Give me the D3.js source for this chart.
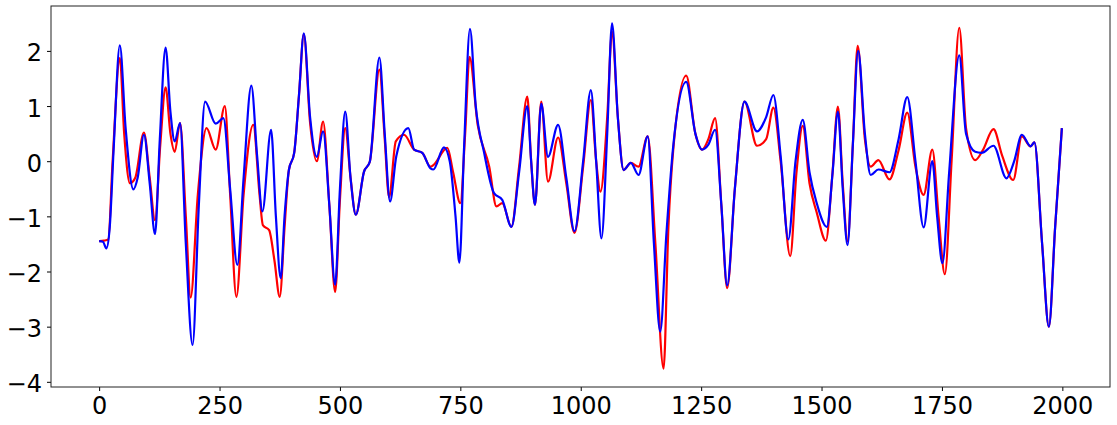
<!DOCTYPE html>
<html>
<head>
<meta charset="utf-8">
<script src="https://cdn.jsdelivr.net/npm/d3@7"></script>
<style>
  body { margin: 0; background: #fff; }
  svg text { font-family: "DejaVu Sans", sans-serif; }
</style>
</head>
<body>
<svg id="chart" width="1117" height="425"></svg>
<script>
// values: [x, y] at the turning points of each curve
var redPoints = [
  [0,-1.45],[10,-1.44],[19,-1.42],[28,0],[43,1.87],[52,0.5],[64,-0.40],[75,-0.3],[93,0.52],[105,-0.3],
  [116,-1.07],[127,0.3],[138,1.34],[148,0.5],[157,0.17],[168,0.69],[180,-1.0],[190,-2.47],[205,-0.6],[223,0.60],
  [242,0.21],[261,1.00],[272,-0.6],[285,-2.46],[300,-0.6],[320,0.66],[333,-0.6],[340,-1.16],[353,-1.25],[364,-1.8],
  [375,-2.46],[385,-1.2],[394,-0.16],[405,0.15],[415,1.2],[425,2.30],[438,0.7],[452,0.0],[465,0.72],[478,-0.8],
  [490,-2.37],[500,-0.7],[511,0.60],[522,-0.3],[533,-0.97],[550,-0.19],[562,-0.01],[582,1.66],[593,0.4],[602,-0.65],
  [616,0.36],[633,0.48],[654,0.21],[671,0.15],[688,-0.1],[694,-0.07],[723,0.24],[735,-0.2],[750,-0.76],[760,0.5],
  [769,1.89],[786,0.66],[810,-0.1],[825,-0.82],[837,-0.76],[856,-1.19],[872,-0.1],[889,1.17],[897,0],[905,-0.79],
  [918,1.08],[932,-0.37],[953,0.43],[970,-0.4],[987,-1.30],[1005,-0.1],[1021,1.11],[1032,0],[1041,-0.55],[1055,0.8],
  [1065,2.35],[1077,0.8],[1089,-0.16],[1104,-0.03],[1120,-0.1],[1139,0.45],[1155,-1.5],[1172,-3.76],[1182,-1.2],[1192,0.2],
  [1219,1.55],[1238,0.5],[1252,0.21],[1265,0.4],[1279,0.78],[1292,-0.8],[1304,-2.30],[1320,-0.5],[1340,1.08],[1366,0.28],
  [1385,0.4],[1400,0.97],[1415,0],[1435,-1.72],[1448,-0.2],[1461,0.64],[1475,-0.4],[1490,-0.93],[1509,-1.44],[1522,-0.3],
  [1534,0.99],[1544,-0.4],[1554,-1.45],[1565,0.3],[1575,2.09],[1590,0.4],[1602,-0.1],[1618,0.02],[1641,-0.33],[1660,0.2],
  [1678,0.88],[1695,-0.1],[1712,-0.61],[1730,0.21],[1743,-1.0],[1756,-2.05],[1770,0],[1786,2.42],[1800,0.6],[1819,0.02],
  [1835,0.2],[1857,0.58],[1875,0.1],[1898,-0.34],[1916,0.45],[1934,0.27],[1942,0.34],[1958,-1.5],[1972,-3.00],[1985,-1.2],
  [1999,0.60]
];

var bluePoints = [
  [0,-1.45],[8,-1.46],[15,-1.58],[22,-1.2],[30,0.2],[43,2.10],[55,0.6],[71,-0.51],[80,-0.3],[93,0.48],
  [105,-0.4],[116,-1.32],[126,0.4],[138,2.06],[148,0.9],[157,0.36],[168,0.69],[180,-1.5],[194,-3.33],[207,-0.8],
  [220,1.08],[242,0.68],[258,0.78],[272,-0.5],[287,-1.88],[300,-0.3],[316,1.37],[328,0.1],[339,-0.91],[357,0.57],
  [367,-1],[377,-2.12],[385,-1.0],[394,-0.16],[405,0.15],[415,1.2],[425,2.32],[438,0.8],[452,0.08],[465,0.54],
  [478,-0.8],[490,-2.24],[500,-0.5],[511,0.90],[522,-0.3],[533,-0.97],[550,-0.19],[562,-0.01],[582,1.88],[593,0.5],
  [604,-0.73],[617,0.09],[642,0.60],[654,0.21],[671,0.15],[688,-0.13],[694,-0.15],[716,0.25],[728,0],[740,-1.0],
  [748,-1.84],[758,0.3],[770,2.40],[782,1.0],[799,0.17],[820,-0.58],[837,-0.70],[856,-1.19],[872,-0.2],[889,1.0],
  [897,0],[905,-0.79],[918,1.04],[932,0.08],[953,0.66],[970,-0.3],[987,-1.27],[1005,0],[1021,1.29],[1032,0],
  [1043,-1.40],[1055,0.5],[1065,2.50],[1077,0.8],[1089,-0.16],[1104,-0.03],[1120,-0.25],[1139,0.45],[1152,-1.5],[1165,-3.09],
  [1178,-1.3],[1192,0.27],[1219,1.44],[1238,0.5],[1252,0.21],[1265,0.3],[1279,0.57],[1292,-0.8],[1304,-2.25],[1320,-0.5],
  [1340,1.08],[1366,0.54],[1385,0.8],[1400,1.20],[1415,0.1],[1431,-1.42],[1446,0],[1461,0.75],[1475,-0.2],[1490,-0.76],
  [1511,-1.19],[1523,-0.2],[1534,0.90],[1544,-0.5],[1554,-1.52],[1565,0.3],[1576,2.0],[1590,0.5],[1602,-0.25],[1618,-0.15],
  [1641,-0.2],[1660,0.4],[1678,1.16],[1695,0.0],[1712,-1.20],[1730,0.0],[1740,-1.0],[1751,-1.85],[1765,-0.2],[1786,1.92],
  [1800,0.5],[1819,0.17],[1832,0.15],[1857,0.28],[1884,-0.31],[1900,0.0],[1916,0.48],[1934,0.27],[1942,0.34],[1958,-1.5],
  [1972,-3.00],[1985,-1.2],[1999,0.60]
];

var xTicks = [0, 250, 500, 750, 1000, 1250, 1500, 1750, 2000];
var yTicks = [-4, -3, -2, -1, 0, 1, 2];

// plot frame in pixels (matplotlib-like axes box)
var plotLeft = 51, plotRight = 1110, plotTop = 6, plotBottom = 387;
var svg = d3.select("#chart");

var x = d3.scaleLinear().domain([-99.95, 2098.95]).range([plotLeft, plotRight]);
var y = d3.scaleLinear().domain([-4.094, 2.814]).range([plotBottom, plotTop]);

var line = d3.line()
    .x(function(d) { return x(d[0]); })
    .y(function(d) { return y(d[1]); })
    .curve(d3.curveMonotoneX);

svg.append("path").datum(redPoints)
    .attr("d", line).attr("fill", "none")
    .attr("stroke", "#ff0000").attr("stroke-width", 2.2).attr("stroke-linejoin", "round");
svg.append("path").datum(bluePoints)
    .attr("d", line).attr("fill", "none")
    .attr("stroke", "#0000ff").attr("stroke-width", 2.2).attr("stroke-linejoin", "round");

// axes
var fmt = function(d) { return d < 0 ? "\u2212" + Math.abs(d) : String(d); };

var gx = svg.append("g").attr("transform", "translate(0," + plotBottom + ")")
    .call(d3.axisBottom(x).tickValues(xTicks).tickSize(4).tickPadding(6).tickFormat(fmt));
var gy = svg.append("g").attr("transform", "translate(" + plotLeft + ",0)")
    .call(d3.axisLeft(y).tickValues(yTicks).tickSize(4).tickPadding(5).tickFormat(fmt));

[gx, gy].forEach(function(g) {
  g.select(".domain").remove();
  g.attr("font-size", null).attr("font-family", null);
  g.selectAll(".tick line").attr("stroke", "#000").attr("stroke-width", 1);
  g.selectAll(".tick text").attr("fill", "#000").style("font-size", "24px");
});
gy.selectAll(".tick text").attr("dy", "0.42em");

svg.append("rect")
    .attr("x", plotLeft).attr("y", plotTop)
    .attr("width", plotRight - plotLeft).attr("height", plotBottom - plotTop)
    .attr("fill", "none").attr("stroke", "#222").attr("stroke-width", 1);
</script>
</body>
</html>
